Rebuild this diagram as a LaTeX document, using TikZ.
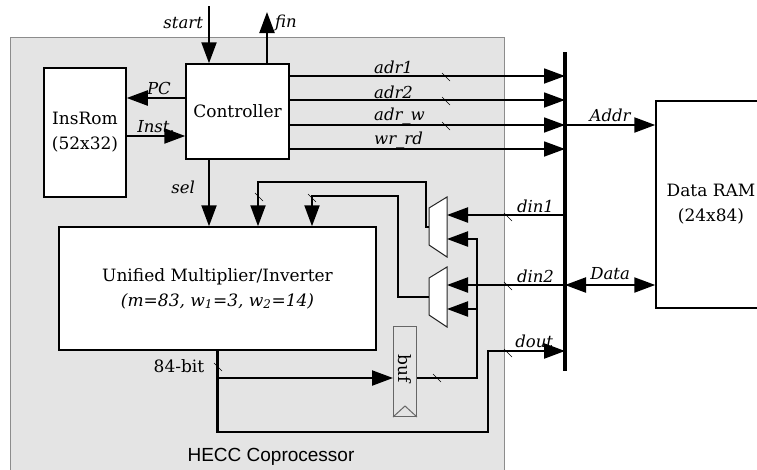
\documentclass[tikz,border=0pt]{standalone}
\usepackage{fontspec}
\setmainfont{DejaVu Serif}
\setsansfont{Liberation Sans}
\usepackage{tikz}
\usetikzlibrary{arrows.meta, positioning}
\definecolor{copgray}{RGB}{228,228,228}
\definecolor{edgegray}{RGB}{140,140,140}

\begin{document}
\begin{tikzpicture}[x=1pt, y=-1pt,
        box/.style={rectangle, draw=black, fill=white, line width=1.5pt, align=center,
                    inner sep=0pt, font=\fontsize{17}{25}\selectfont},
        wire/.style={line width=2.2pt},
        arr/.style={-{Triangle[length=21pt, width=15pt]}, line width=2.2pt},
        darr/.style={{Triangle[length=21pt, width=15pt]}-{Triangle[length=21pt, width=15pt]}, line width=2.2pt},
        ctl/.style={-{Triangle[length=21pt, width=15pt]}, line width=1.8pt},
        sig/.style={font=\fontsize{16.5}{18}\selectfont\itshape, inner sep=1pt},
        tick/.style={line width=0.6pt},
        muxbox/.style={draw=black!85, fill=white, line width=1pt}
    ]
        \useasboundingbox (0,0) rectangle (757,469);

        % Coprocessor
        \node[draw=edgegray, fill=copgray, line width=1.2pt, anchor=north west,
              minimum width=494pt, minimum height=450pt] (cop) at (10,37) {};
        \node[font=\sffamily\fontsize{19}{22}\selectfont] (coplbl) at (271,457) {HECC Coprocessor};

        % Blocks
        \node[box, minimum width=103pt, minimum height=95pt] (ctrl) at (237.5,111.5) {Controller};
        \node[box, minimum width=82pt, minimum height=129pt] (rom) at (85,132.5) {InsRom\\(52x32)};
        \node[box, minimum width=317pt, minimum height=123pt] (mult) at (217.5,288.5)
            {Unified Multiplier/Inverter\\{\itshape (m=83, w\textsubscript{1}=3, w\textsubscript{2}=14)}};
        \node[box, minimum width=110pt, minimum height=207pt] (ram) at (711,204.5) {Data RAM\\(24x84)};
        \node[draw=black!60, fill=copgray, line width=1pt, inner sep=0pt,
              minimum width=23pt, minimum height=90pt] (buf) at (405,371.5) {};
        \node[rotate=-90, font=\fontsize{17}{20}\selectfont] (buflbl) at ([yshift=3pt]buf.center) {buf};
        \draw[draw=black!60, line width=1pt] (buf.south west) -- ([yshift=11pt]buf.south) -- (buf.south east);

        % Muxes
        \coordinate (mux1) at (438,227);
        \coordinate (mux2) at (438,297);
        \draw[muxbox] (mux1) ++(-9,-19) -- ++(18,-11) -- ++(0,60) -- ++(-18,-12) -- cycle;
        \draw[muxbox] (mux2) ++(-9,-19) -- ++(18,-11) -- ++(0,60) -- ++(-18,-12) -- cycle;
        \coordinate (mux1a) at (447,215);
        \coordinate (mux1b) at (447,239);
        \coordinate (mux1o) at (429,227);
        \coordinate (mux2a) at (447,285);
        \coordinate (mux2b) at (447,309);
        \coordinate (mux2o) at (429,297);

        % Bus
        \coordinate (bustop) at (565,52);
        \coordinate (busbot) at (565,371);
        \draw[line width=3.5pt] (bustop) -- (busbot);

        % Controller signals
        \coordinate (start) at (209,6);
        \coordinate (fin) at (267,12);
        \draw[arr] (start) -- (start |- ctrl.north) node[sig, pos=0.3, left=4pt] {start};
        \draw[arr] (ctrl.north -| fin) -- (fin) node[sig, pos=0.79, right=6pt] {fin};
        \draw[arr] (ctrl.west |- 0,98) -- (rom.east |- 0,98) node[sig, pos=0.45, above=1pt] {PC};
        \draw[arr] (rom.east |- 0,136) -- (ctrl.west |- 0,136) node[sig, midway, above=1pt] {Inst.};
        \draw[arr] (ctrl.south -| start) -- (mult.north -| start) node[sig, pos=0.42, left=12pt] {sel};

        \draw[ctl] (ctrl.east |- 0,76) -- (bustop |- 0,76);
        \draw[ctl] (ctrl.east |- 0,100) -- (bustop |- 0,100);
        \draw[ctl] (ctrl.east |- 0,125) -- (bustop |- 0,125);
        \draw[ctl] (ctrl.east |- 0,149) -- (bustop |- 0,149);
        \node[sig, anchor=base west] (ladr1) at (373,73) {adr1};
        \node[sig, anchor=base west] (ladr2) at (373,98) {adr2};
        \node[sig, anchor=base west] (ladrw) at (373,120) {adr\_w};
        \node[sig, anchor=base west] (lwrrd) at (373,144) {wr\_rd};

        % RAM side
        \draw[arr] (bustop |- 0,125) -- (ram.west |- 0,125) node[sig, midway, above=1pt] {Addr};
        \draw[darr] (bustop |- 0,285) -- (ram.west |- 0,285) node[sig, midway, above=3pt] {Data};

        % Data inputs
        \draw[arr] (bustop |- mux1a) -- (mux1a) node[sig, pos=0.25, above=0pt] {din1};
        \draw[arr] (bustop |- mux2a) -- (mux2a) node[sig, pos=0.25, above=0pt] {din2};
        \draw[arr] (mux1o) -| (426,182) -| (mult.north -| 258,0);
        \draw[arr] (mux2o) -| (398,196) -| (mult.north -| 312,0);

        % Result path
        \coordinate (loop) at (488,432);
        \coordinate (fb) at (477,239);
        \draw[arr] (mult.south) |- (loop) |- (bustop |- 0,351) node[sig, pos=0.8, above=1pt] {dout};
        \draw[arr] (mult.south |- 0,378) -- (buf.west |- 0,378);
        \node[font=\fontsize{17}{20}\selectfont] (bits) at (179,366) {84-bit};
        \draw[arr] (buf.east |- 0,378) -| (fb) -- (mux1b);
        \draw[arr] (fb |- mux2b) -- (mux2b);

        % Bus width marks
        \draw[tick] (442,73) -- ++(8,8);
        \draw[tick] (442,97) -- ++(8,8);
        \draw[tick] (442,122) -- ++(8,8);
        \draw[tick] (504,213) -- ++(8,8);
        \draw[tick] (504,282) -- ++(8,8);
        \draw[tick] (504,349) -- ++(8,8);
        \draw[tick] (255,193) -- ++(8,8);
        \draw[tick] (308,194) -- ++(8,8);
        \draw[tick] (214,363) -- ++(8,8);
        \draw[tick] (433,374) -- ++(8,8);
    \end{tikzpicture}
\end{document}
